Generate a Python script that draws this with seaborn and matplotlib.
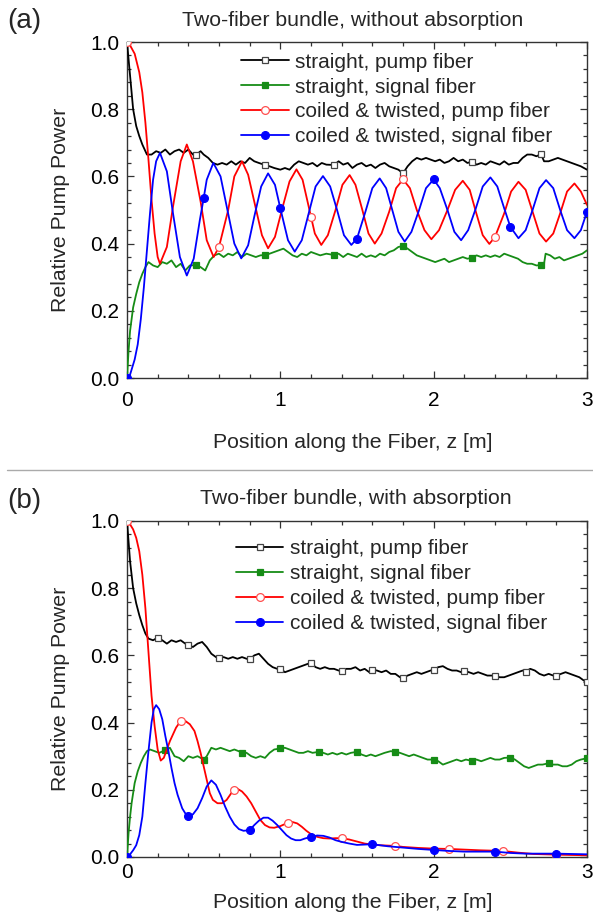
import numpy as np
import pandas as pd
import matplotlib
matplotlib.use("Agg")
import matplotlib.pyplot as plt
import seaborn as sns
from matplotlib.lines import Line2D
from matplotlib.ticker import MultipleLocator

sns.set_theme(style="ticks")
plt.rcParams['font.family'] = ['Liberation Sans', 'DejaVu Sans']

# ---------------- data: panel (a), without absorption ----------------
A_BLACK_Z = [0.00, 0.02, 0.04, 0.06, 0.08, 0.10, 0.13, 0.16, 0.19, 0.22, 0.25, 0.28, 0.31, 0.34, 0.37, 0.40,
             0.43, 0.45, 0.48, 0.50, 0.53, 0.56, 0.59, 0.62, 0.65, 0.68, 0.71, 0.74, 0.77, 0.80, 0.83, 0.86,
             0.90, 0.93, 0.96, 1.00, 1.03, 1.06, 1.09, 1.12, 1.15, 1.18, 1.21, 1.24, 1.27, 1.30, 1.35, 1.38,
             1.41, 1.44, 1.47, 1.50, 1.53, 1.56, 1.59, 1.62, 1.65, 1.68, 1.71, 1.74, 1.77, 1.80, 1.83, 1.86,
             1.89, 1.92, 1.95, 1.98, 2.01, 2.04, 2.07, 2.10, 2.13, 2.16, 2.19, 2.22, 2.25, 2.28, 2.31, 2.34,
             2.37, 2.40, 2.43, 2.46, 2.49, 2.52, 2.55, 2.58, 2.61, 2.64, 2.67, 2.70, 2.72, 2.75, 2.78, 2.81,
             2.84, 2.87, 2.90, 2.93, 2.96, 3.00]
A_BLACK_V = [1.000, 0.900, 0.800, 0.750, 0.720, 0.695, 0.665, 0.665, 0.675, 0.670, 0.680, 0.665, 0.675, 0.680, 0.670, 0.680,
             0.665, 0.664, 0.675, 0.665, 0.655, 0.640, 0.635, 0.640, 0.635, 0.645, 0.635, 0.645, 0.640, 0.655, 0.645, 0.640,
             0.634, 0.630, 0.625, 0.620, 0.625, 0.620, 0.635, 0.645, 0.640, 0.635, 0.640, 0.630, 0.640, 0.635, 0.634, 0.645,
             0.635, 0.640, 0.625, 0.635, 0.640, 0.630, 0.635, 0.625, 0.635, 0.640, 0.630, 0.625, 0.620, 0.609, 0.630, 0.645,
             0.655, 0.650, 0.655, 0.650, 0.645, 0.650, 0.640, 0.645, 0.655, 0.645, 0.650, 0.640, 0.644, 0.635, 0.640, 0.635,
             0.645, 0.640, 0.635, 0.645, 0.635, 0.640, 0.640, 0.655, 0.665, 0.665, 0.660, 0.666, 0.645, 0.645, 0.650, 0.655,
             0.650, 0.645, 0.640, 0.635, 0.630, 0.620]
A_BLACK_MARK = [0.0, 0.45, 0.90, 1.35, 1.80, 2.25, 2.70]

A_GREEN_Z = [0.00, 0.01, 0.02, 0.04, 0.06, 0.08, 0.10, 0.12, 0.14, 0.17, 0.20, 0.23, 0.26, 0.29, 0.32, 0.35,
             0.38, 0.41, 0.45, 0.48, 0.51, 0.54, 0.57, 0.60, 0.63, 0.66, 0.69, 0.72, 0.75, 0.78, 0.81, 0.84,
             0.87, 0.90, 0.93, 0.96, 0.99, 1.02, 1.05, 1.08, 1.11, 1.14, 1.17, 1.20, 1.23, 1.26, 1.30, 1.35,
             1.38, 1.41, 1.44, 1.47, 1.50, 1.53, 1.56, 1.59, 1.62, 1.65, 1.68, 1.71, 1.74, 1.77, 1.80, 1.83,
             1.86, 1.89, 1.92, 1.95, 1.98, 2.01, 2.04, 2.07, 2.10, 2.13, 2.16, 2.19, 2.22, 2.25, 2.28, 2.31,
             2.34, 2.37, 2.40, 2.43, 2.46, 2.49, 2.52, 2.55, 2.58, 2.61, 2.64, 2.67, 2.70, 2.72, 2.73, 2.76,
             2.79, 2.82, 2.85, 2.88, 2.91, 2.94, 2.97, 3.00]
A_GREEN_V = [0.000, 0.080, 0.140, 0.210, 0.250, 0.285, 0.310, 0.330, 0.345, 0.335, 0.330, 0.345, 0.340, 0.350, 0.330, 0.340,
             0.320, 0.335, 0.336, 0.330, 0.320, 0.350, 0.365, 0.370, 0.360, 0.370, 0.365, 0.375, 0.360, 0.370, 0.365, 0.360,
             0.365, 0.366, 0.370, 0.375, 0.380, 0.385, 0.375, 0.365, 0.360, 0.370, 0.365, 0.375, 0.370, 0.365, 0.370, 0.366,
             0.370, 0.360, 0.370, 0.365, 0.360, 0.370, 0.360, 0.365, 0.360, 0.370, 0.365, 0.375, 0.380, 0.390, 0.393, 0.385,
             0.375, 0.365, 0.360, 0.355, 0.350, 0.345, 0.350, 0.355, 0.345, 0.350, 0.355, 0.360, 0.355, 0.358, 0.365, 0.360,
             0.365, 0.360, 0.365, 0.360, 0.370, 0.365, 0.360, 0.355, 0.345, 0.340, 0.340, 0.335, 0.336, 0.340, 0.370, 0.365,
             0.355, 0.360, 0.350, 0.355, 0.360, 0.365, 0.370, 0.380]
A_GREEN_MARK = [0.0, 0.45, 0.90, 1.35, 1.80, 2.25, 2.70]

A_RED_Z = [0.00, 0.02, 0.05, 0.08, 0.10, 0.12, 0.14, 0.16, 0.18, 0.20, 0.215,
           0.26, 0.30, 0.35, 0.39, 0.43, 0.48, 0.52, 0.565, 0.60, 0.66, 0.70, 0.75,
           0.79, 0.835, 0.88, 0.92, 0.965, 1.01, 1.06, 1.105, 1.145, 1.20, 1.225, 1.267,
           1.31, 1.36, 1.405, 1.452, 1.49, 1.535, 1.575, 1.616, 1.66, 1.71, 1.755, 1.80,
           1.845, 1.89, 1.94, 1.985, 2.035, 2.09, 2.14, 2.19, 2.235, 2.275, 2.32, 2.363,
           2.40, 2.46, 2.505, 2.553, 2.60, 2.645, 2.69, 2.733, 2.78, 2.825, 2.87, 2.918,
           2.96, 3.00]
A_RED_V = [1.000, 0.990, 0.965, 0.910, 0.850, 0.760, 0.650, 0.530, 0.430, 0.360, 0.340,
           0.390, 0.510, 0.645, 0.695, 0.645, 0.525, 0.410, 0.360, 0.390, 0.500, 0.600, 0.645,
           0.605, 0.515, 0.425, 0.386, 0.420, 0.500, 0.585, 0.621, 0.590, 0.480, 0.430, 0.396,
           0.425, 0.500, 0.575, 0.604, 0.575, 0.500, 0.430, 0.400, 0.430, 0.495, 0.565, 0.591,
           0.565, 0.500, 0.440, 0.413, 0.440, 0.500, 0.560, 0.587, 0.560, 0.495, 0.425, 0.399,
           0.420, 0.490, 0.555, 0.584, 0.560, 0.495, 0.430, 0.406, 0.430, 0.490, 0.555, 0.579,
           0.555, 0.515]
A_RED_MARK = [0.0, 0.60, 1.20, 1.80, 2.40]

A_BLUE_Z = [0.00, 0.02, 0.05, 0.07, 0.09, 0.11, 0.13, 0.15, 0.17, 0.19, 0.215,
            0.26, 0.30, 0.345, 0.39, 0.435, 0.475, 0.50, 0.52, 0.563, 0.61, 0.655, 0.70, 0.745,
            0.79, 0.83, 0.875, 0.92, 0.965, 1.00, 1.05, 1.094, 1.14, 1.185, 1.23, 1.278,
            1.325, 1.37, 1.415, 1.463, 1.50, 1.555, 1.60, 1.648, 1.69, 1.73, 1.77, 1.811,
            1.855, 1.905, 1.95, 2.00, 2.04, 2.09, 2.135, 2.179, 2.225, 2.275, 2.32, 2.37,
            2.415, 2.46, 2.50, 2.553, 2.60, 2.645, 2.69, 2.733, 2.78, 2.825, 2.87, 2.918,
            2.96, 3.00]
A_BLUE_V = [0.000, 0.010, 0.055, 0.100, 0.175, 0.270, 0.380, 0.490, 0.590, 0.645, 0.670,
            0.615, 0.490, 0.360, 0.305, 0.355, 0.470, 0.535, 0.590, 0.640, 0.600, 0.500, 0.400, 0.356,
            0.395, 0.480, 0.570, 0.609, 0.575, 0.505, 0.410, 0.376, 0.410, 0.490, 0.570, 0.601,
            0.570, 0.500, 0.425, 0.396, 0.415, 0.495, 0.565, 0.594, 0.565, 0.500, 0.435, 0.406,
            0.435, 0.500, 0.565, 0.591, 0.565, 0.500, 0.435, 0.410, 0.440, 0.505, 0.570, 0.597,
            0.570, 0.505, 0.450, 0.416, 0.440, 0.500, 0.565, 0.589, 0.565, 0.500, 0.440, 0.416,
            0.440, 0.495]
A_BLUE_MARK = [0.0, 0.5, 1.0, 1.5, 2.0, 2.5, 3.0]

# ---------------- data: panel (b), with absorption ----------------
B_BLACK_Z = [0.00, 0.02, 0.04, 0.06, 0.08, 0.10, 0.12, 0.14, 0.17, 0.20, 0.23, 0.26, 0.29, 0.32, 0.35, 0.38,
             0.40, 0.43, 0.46, 0.49, 0.52, 0.55, 0.58, 0.60, 0.63, 0.66, 0.69, 0.72, 0.75, 0.78, 0.80, 0.83,
             0.86, 0.89, 0.92, 0.95, 0.98, 1.00, 1.03, 1.06, 1.09, 1.12, 1.15, 1.18, 1.20, 1.23, 1.26, 1.29,
             1.32, 1.35, 1.38, 1.40, 1.43, 1.46, 1.49, 1.52, 1.55, 1.58, 1.60, 1.63, 1.66, 1.69, 1.72, 1.75,
             1.78, 1.80, 1.83, 1.86, 1.89, 1.92, 1.95, 1.98, 2.00, 2.03, 2.06, 2.09, 2.12, 2.15, 2.18, 2.20,
             2.23, 2.26, 2.29, 2.32, 2.35, 2.38, 2.40, 2.43, 2.46, 2.49, 2.52, 2.55, 2.58, 2.60, 2.63, 2.66,
             2.69, 2.72, 2.75, 2.78, 2.80, 2.83, 2.86, 2.89, 2.92, 2.95, 2.98, 3.00]
B_BLACK_V = [1.000, 0.880, 0.800, 0.755, 0.720, 0.690, 0.665, 0.650, 0.645, 0.653, 0.645, 0.635, 0.645, 0.640, 0.645, 0.635,
             0.631, 0.625, 0.635, 0.640, 0.625, 0.605, 0.595, 0.591, 0.595, 0.590, 0.595, 0.590, 0.595, 0.590, 0.588, 0.600,
             0.605, 0.590, 0.575, 0.565, 0.560, 0.561, 0.550, 0.555, 0.560, 0.565, 0.570, 0.575, 0.578, 0.565, 0.560, 0.565,
             0.560, 0.560, 0.555, 0.554, 0.560, 0.560, 0.565, 0.555, 0.560, 0.550, 0.557, 0.555, 0.550, 0.555, 0.545, 0.545,
             0.535, 0.534, 0.540, 0.545, 0.550, 0.545, 0.550, 0.555, 0.557, 0.565, 0.568, 0.560, 0.555, 0.555, 0.550, 0.554,
             0.550, 0.545, 0.550, 0.545, 0.540, 0.540, 0.540, 0.535, 0.535, 0.540, 0.545, 0.550, 0.555, 0.552, 0.560, 0.555,
             0.545, 0.540, 0.545, 0.540, 0.540, 0.545, 0.550, 0.545, 0.540, 0.535, 0.525, 0.520]
B_BLACK_MARK = [0.0, 0.2, 0.4, 0.6, 0.8, 1.0, 1.2, 1.4, 1.6, 1.8, 2.0, 2.2, 2.4, 2.6, 2.8, 3.0]

B_GREEN_Z = [0.00, 0.01, 0.02, 0.03, 0.05, 0.07, 0.09, 0.11, 0.13, 0.15, 0.18, 0.21, 0.25, 0.28, 0.31, 0.34,
             0.37, 0.40, 0.43, 0.46, 0.50, 0.52, 0.55, 0.58, 0.61, 0.64, 0.67, 0.70, 0.75, 0.78, 0.81, 0.84,
             0.87, 0.90, 0.93, 0.96, 1.00, 1.03, 1.06, 1.09, 1.12, 1.15, 1.18, 1.21, 1.25, 1.28, 1.31, 1.34,
             1.37, 1.40, 1.43, 1.46, 1.50, 1.53, 1.56, 1.59, 1.62, 1.65, 1.68, 1.72, 1.75, 1.78, 1.81, 1.84,
             1.87, 1.90, 1.93, 1.96, 2.00, 2.03, 2.06, 2.09, 2.12, 2.15, 2.18, 2.21, 2.25, 2.28, 2.31, 2.34,
             2.37, 2.40, 2.43, 2.46, 2.50, 2.53, 2.56, 2.59, 2.62, 2.65, 2.68, 2.71, 2.75, 2.78, 2.81, 2.84,
             2.87, 2.90, 2.93, 2.96, 3.00]
B_GREEN_V = [0.000, 0.070, 0.120, 0.160, 0.220, 0.255, 0.280, 0.300, 0.315, 0.320, 0.315, 0.310, 0.318, 0.325, 0.300, 0.295,
             0.285, 0.300, 0.295, 0.300, 0.290, 0.300, 0.325, 0.320, 0.325, 0.320, 0.315, 0.320, 0.311, 0.310, 0.300, 0.295,
             0.300, 0.295, 0.310, 0.320, 0.323, 0.325, 0.320, 0.315, 0.310, 0.310, 0.315, 0.310, 0.313, 0.310, 0.305, 0.310,
             0.305, 0.310, 0.305, 0.310, 0.313, 0.305, 0.300, 0.305, 0.300, 0.305, 0.310, 0.315, 0.313, 0.310, 0.305, 0.300,
             0.305, 0.300, 0.295, 0.290, 0.290, 0.285, 0.275, 0.280, 0.285, 0.290, 0.285, 0.290, 0.286, 0.290, 0.285, 0.290,
             0.295, 0.290, 0.290, 0.295, 0.296, 0.290, 0.280, 0.270, 0.265, 0.270, 0.275, 0.275, 0.279, 0.275, 0.275, 0.270,
             0.270, 0.275, 0.285, 0.290, 0.294]
B_GREEN_MARK = [0.0, 0.25, 0.5, 0.75, 1.0, 1.25, 1.5, 1.75, 2.0, 2.25, 2.5, 2.75, 3.0]

B_RED_Z = [0.00, 0.02, 0.04, 0.06, 0.08, 0.10, 0.12, 0.14, 0.16, 0.18, 0.20, 0.22, 0.24, 0.26, 0.28, 0.30,
           0.32, 0.35, 0.38, 0.41, 0.44, 0.46, 0.48, 0.50, 0.52, 0.54, 0.56, 0.59, 0.62, 0.65, 0.68, 0.70,
           0.72, 0.75, 0.78, 0.81, 0.84, 0.87, 0.90, 0.93, 0.96, 1.00, 1.05, 1.08, 1.11, 1.14, 1.17, 1.20,
           1.24, 1.28, 1.32, 1.36, 1.40, 1.45, 1.50, 1.55, 1.60, 1.65, 1.70, 1.75, 1.80, 1.90, 2.00, 2.10,
           2.20, 2.30, 2.45, 2.55, 2.65, 2.80, 2.90, 3.00]
B_RED_V = [1.000, 0.990, 0.975, 0.950, 0.910, 0.840, 0.740, 0.610, 0.480, 0.390, 0.320, 0.287, 0.295, 0.320, 0.345, 0.365,
           0.385, 0.405, 0.405, 0.395, 0.375, 0.345, 0.310, 0.270, 0.230, 0.190, 0.170, 0.160, 0.160, 0.170, 0.190, 0.200,
           0.203, 0.195, 0.180, 0.160, 0.135, 0.110, 0.095, 0.088, 0.087, 0.092, 0.102, 0.104, 0.100, 0.090, 0.078, 0.068,
           0.060, 0.056, 0.055, 0.056, 0.056, 0.052, 0.046, 0.040, 0.037, 0.035, 0.034, 0.033, 0.030, 0.027, 0.025, 0.024,
           0.022, 0.020, 0.018, 0.013, 0.009, 0.007, 0.006, 0.005]
B_RED_MARK = [0.0, 0.35, 0.70, 1.05, 1.40, 1.75, 2.10, 2.45, 2.80]

B_BLUE_Z = [0.00, 0.02, 0.04, 0.06, 0.08, 0.10, 0.12, 0.14, 0.16, 0.175, 0.19, 0.21, 0.23, 0.25, 0.27, 0.29,
            0.31, 0.33, 0.36, 0.38, 0.40, 0.43, 0.46, 0.49, 0.52, 0.55, 0.58, 0.61, 0.64, 0.67, 0.70, 0.73,
            0.76, 0.80, 0.83, 0.86, 0.89, 0.92, 0.95, 0.98, 1.01, 1.04, 1.07, 1.10, 1.13, 1.16, 1.20, 1.24,
            1.28, 1.32, 1.36, 1.40, 1.45, 1.50, 1.55, 1.60, 1.65, 1.70, 1.80, 1.90, 2.00, 2.10, 2.20, 2.30,
            2.40, 2.50, 2.60, 2.70, 2.80, 2.90, 3.00]
B_BLUE_V = [0.000, 0.008, 0.020, 0.035, 0.065, 0.120, 0.220, 0.315, 0.400, 0.440, 0.452, 0.440, 0.410, 0.360, 0.315, 0.265,
            0.220, 0.185, 0.145, 0.130, 0.122, 0.127, 0.145, 0.175, 0.210, 0.228, 0.215, 0.185, 0.150, 0.120, 0.097, 0.083,
            0.078, 0.080, 0.095, 0.108, 0.117, 0.117, 0.108, 0.095, 0.080, 0.065, 0.055, 0.050, 0.050, 0.055, 0.060, 0.064,
            0.063, 0.058, 0.050, 0.045, 0.040, 0.036, 0.037, 0.038, 0.035, 0.032, 0.028, 0.024, 0.021, 0.018, 0.016, 0.016,
            0.016, 0.012, 0.010, 0.010, 0.010, 0.009, 0.008]
B_BLUE_MARK = [0.0, 0.4, 0.8, 1.2, 1.6, 2.0, 2.4, 2.8]

LABELS = ["straight, pump fiber", "straight, signal fiber",
          "coiled & twisted, pump fiber", "coiled & twisted, signal fiber"]
TITLES = ["Two-fiber bundle, without absorption", "Two-fiber bundle, with absorption"]
PANEL_TAGS = ["(a)", "(b)"]
X_LABEL = "Position along the Fiber, z [m]"
Y_LABEL = "Relative Pump Power"

# ---------------- styles ----------------
STYLES = [
    dict(color="black", marker="s", mfc="white", mec="#444444", ms=5.0),
    dict(color="#168c16", marker="s", mfc="#168c16", mec="#168c16", ms=5.0),
    dict(color="#ff0000", marker="o", mfc="white", mec="#ff5050", ms=5.6),
    dict(color="#0000ff", marker="o", mfc="#0000ff", mec="#0000ff", ms=5.6),
]
LW = 1.3
FS_TICK = 15
FS_LAB = 15.3
FS_LEG = 15
FS_TAG = 20

fig = plt.figure(figsize=(5.93, 9.19), dpi=100)
W, H = 593.0, 919.0
ax_a = fig.add_axes([127 / W, 1 - 378 / H, 460 / W, 336 / H])
ax_b = fig.add_axes([127 / W, 1 - 857 / H, 460 / W, 336 / H])


def draw(ax, z, v, marks, st):
    z = np.asarray(z, dtype=float)
    v = np.asarray(v, dtype=float)
    idx = [int(np.argmin(np.abs(z - m))) for m in marks]
    df = pd.DataFrame({"z": z, "v": v})
    sns.lineplot(data=df, x="z", y="v", ax=ax, sort=False, estimator=None,
                 color=st["color"], lw=LW, marker=st["marker"], markevery=idx,
                 markersize=st["ms"], markerfacecolor=st["mfc"],
                 markeredgecolor=st["mec"], markeredgewidth=0.9, zorder=3)


panels = [
    (ax_a, [(A_BLACK_Z, A_BLACK_V, A_BLACK_MARK), (A_GREEN_Z, A_GREEN_V, A_GREEN_MARK),
            (A_RED_Z, A_RED_V, A_RED_MARK), (A_BLUE_Z, A_BLUE_V, A_BLUE_MARK)]),
    (ax_b, [(B_BLACK_Z, B_BLACK_V, B_BLACK_MARK), (B_GREEN_Z, B_GREEN_V, B_GREEN_MARK),
            (B_RED_Z, B_RED_V, B_RED_MARK), (B_BLUE_Z, B_BLUE_V, B_BLUE_MARK)]),
]

# per-panel layout (pixel positions relative to each axes)
legend_pos = [(0.248, 0.968), (0.236, 0.945)]
xtick_pad = [9.5, 4.5]
xlabel_y = [(378 - 442) / 336, (857 - 902) / 336]
ylabel_x = (60 - 127) / 460

for k, (ax, series) in enumerate(panels):
    for (z, v, m), st in zip(series, STYLES):
        draw(ax, z, v, m, st)
    ax.set_xlim(0, 3)
    ax.set_ylim(0, 1.0)
    ax.set_yticks([0, 0.2, 0.4, 0.6, 0.8, 1.0])
    ax.set_yticklabels(["0.0", "0.2", "0.4", "0.6", "0.8", "1.0"])
    ax.set_xticks([0, 1, 2, 3])
    ax.set_xticklabels(["0", "1", "2", "3"])
    ax.xaxis.set_minor_locator(MultipleLocator(0.2))
    ax.yaxis.set_minor_locator(MultipleLocator(0.04))
    ax.tick_params(which="both", direction="in", top=True, right=True, colors="#333333",
                   labelcolor="black", labelsize=FS_TICK, width=0.9)
    ax.tick_params(which="major", length=5)
    ax.tick_params(which="minor", length=3)
    ax.tick_params(axis="y", which="major", pad=5.5)
    ax.tick_params(axis="x", which="major", pad=xtick_pad[k])
    for sp in ax.spines.values():
        sp.set_color("#333333")
        sp.set_linewidth(1.0)
    ax.set_xlabel(X_LABEL, fontsize=FS_LAB, va="center")
    ax.xaxis.set_label_coords(0.49, xlabel_y[k])
    ax.set_ylabel(Y_LABEL, fontsize=FS_LAB, va="center")
    ax.yaxis.set_label_coords(ylabel_x, 0.5)
    ax.set_facecolor("white")

    handles = [Line2D([0], [0], color=st["color"], lw=LW, marker=st["marker"],
                      markersize=st["ms"], markerfacecolor=st["mfc"],
                      markeredgecolor=st["mec"], markeredgewidth=0.9) for st in STYLES]
    ax.legend(handles, LABELS, loc="upper left", bbox_to_anchor=legend_pos[k],
              frameon=False, fontsize=FS_LEG, handlelength=2.3, handletextpad=0.3,
              labelspacing=0.28, borderaxespad=0, borderpad=0)

fig.text(353 / W, 1 - 20 / H, TITLES[0], ha="center", va="center", fontsize=FS_LAB)
fig.text(356 / W, 1 - 498 / H, TITLES[1], ha="center", va="center", fontsize=FS_LAB)
fig.text(7 / W, 1 - 21 / H, PANEL_TAGS[0], ha="left", va="center", fontsize=FS_TAG)
fig.text(7 / W, 1 - 501 / H, PANEL_TAGS[1], ha="left", va="center", fontsize=FS_TAG)
fig.add_artist(Line2D([7 / W, 1.0], [1 - 470 / H, 1 - 470 / H], color="#aaaaaa", lw=1.0))

fig.savefig("out.png", dpi=100, facecolor="white")
